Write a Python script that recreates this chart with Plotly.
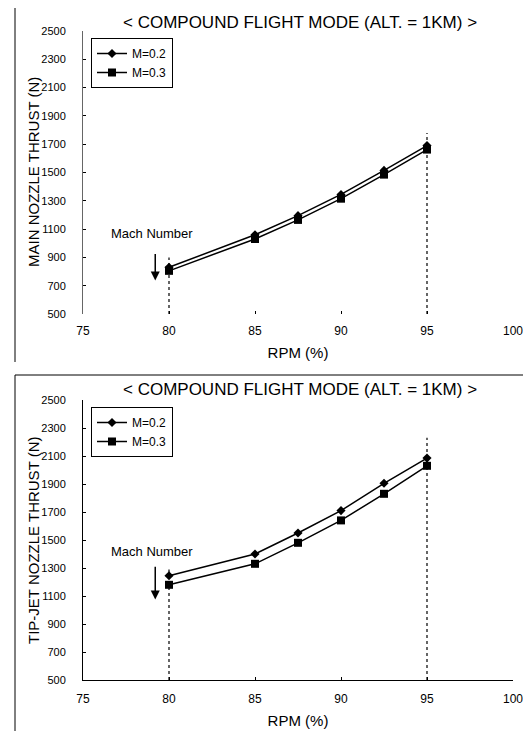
import plotly.graph_objects as go

rpm = [80, 85, 87.5, 90, 92.5, 95]
main_m02 = [830, 1060, 1195, 1345, 1515, 1690]
main_m03 = [805, 1030, 1165, 1315, 1485, 1662]
tip_m02 = [1245, 1400, 1550, 1710, 1905, 2085]
tip_m03 = [1180, 1330, 1480, 1640, 1830, 2030]
series_names = ["M=0.2", "M=0.3"]
title_text = "< COMPOUND FLIGHT MODE (ALT. = 1KM) >"
y_titles = ["MAIN NOZZLE THRUST (N)", "TIP-JET NOZZLE THRUST (N)"]
x_ticks = [75, 80, 85, 90, 95, 100]
y_ticks = [500, 700, 900, 1100, 1300, 1500, 1700, 1900, 2100, 2300, 2500]
ref_x = [80, 95]
main_ref_top = [900, 1780]
tip_ref_top = [1290, 2230]
arrow_x = 79.2
main_arrow = [935, 737, 1070]   # tail, head, label
tip_arrow = [1320, 1075, 1420]

W, H = 523, 731
FONT = "Liberation Sans, Arial, sans-serif"

def px(x):
    return x / W

def py(y):
    return 1 - y / H

fig = go.Figure()

panels = [
    ("x", "y", main_m02, main_m03, "legend"),
    ("x2", "y2", tip_m02, tip_m03, "legend2"),
]
for xa, ya, s2, s3, lg in panels:
    fig.add_trace(go.Scatter(x=rpm, y=s2, name=series_names[0], xaxis=xa, yaxis=ya,
                             mode="lines+markers", legend=lg,
                             line=dict(color="black", width=1.5),
                             marker=dict(symbol="diamond", size=7, color="black")))
    fig.add_trace(go.Scatter(x=rpm, y=s3, name=series_names[1], xaxis=xa, yaxis=ya,
                             mode="lines+markers", legend=lg,
                             line=dict(color="black", width=1.5),
                             marker=dict(symbol="square", size=8, color="black")))

xd = [px(83), px(513)]
top_yd = [py(314), py(31)]
bot_yd = [py(680), py(400)]

common_x = dict(range=[75, 100], tickvals=x_ticks, ticks="inside", ticklen=3,
                tickcolor="black", showgrid=False, zeroline=False, automargin=False,
                ticklabeloverflow="allow", ticklabelstandoff=8,
                tickfont=dict(family=FONT, size=12, color="black"),
                title=dict(text="RPM (%)", font=dict(family=FONT, size=15, color="black"), standoff=10))
common_y = dict(range=[500, 2500], tickvals=y_ticks, ticks="inside", ticklen=3,
                tickcolor="black", showgrid=False, zeroline=False, automargin=False,
                ticklabelstandoff=14,
                tickfont=dict(family=FONT, size=11, color="black"))

fig.update_layout(
    width=W, height=H, margin=dict(l=0, r=0, t=0, b=0, autoexpand=False),
    paper_bgcolor="white", plot_bgcolor="white",
    xaxis=dict(domain=xd, anchor="y", showline=False, **common_x),
    yaxis=dict(domain=top_yd, anchor="x", showline=True, linecolor="#666", linewidth=1, **common_y),
    xaxis2=dict(domain=xd, anchor="y2", showline=True, linecolor="black", linewidth=1, **common_x),
    yaxis2=dict(domain=bot_yd, anchor="x2", showline=True, linecolor="black", linewidth=1, **common_y),
    legend=dict(x=px(91), y=py(38), xanchor="left", yanchor="top", bordercolor="black",
                borderwidth=1, bgcolor="white", font=dict(family=FONT, size=12, color="black"),
                itemwidth=30, tracegroupgap=0),
    legend2=dict(x=px(91), y=py(407), xanchor="left", yanchor="top", bordercolor="black",
                 borderwidth=1, bgcolor="white", font=dict(family=FONT, size=12, color="black"),
                 itemwidth=30, tracegroupgap=0),
    showlegend=True,
)

# dotted reference lines
for xr, yr, tops in [("x", "y", main_ref_top), ("x2", "y2", tip_ref_top)]:
    for xv, top in zip(ref_x, tops):
        fig.add_shape(type="line", xref=xr, yref=yr, x0=xv, x1=xv, y0=500, y1=top,
                      line=dict(color="black", width=1.2, dash="dot"))

# titles, y titles, arrows
for xr, yr, ytitle, yt_text, yt_center, arr in [
        ("x", "y", 22, y_titles[0], 172, main_arrow),
        ("x2", "y2", 389, y_titles[1], 540, tip_arrow)]:
    fig.add_annotation(text=title_text, xref="paper", yref="paper", x=px(300), y=py(ytitle),
                       xanchor="center", yanchor="middle",
                       showarrow=False, font=dict(family=FONT, size=17, color="black"))
    fig.add_annotation(text=yt_text, xref="paper", yref="paper", x=px(33), y=py(yt_center),
                       xanchor="center", yanchor="middle", textangle=-90,
                       showarrow=False, font=dict(family=FONT, size=15, color="black"))
    fig.add_annotation(text="Mach Number", xref=xr, yref=yr, x=arrow_x - 0.2, y=arr[2],
                       showarrow=False, font=dict(family=FONT, size=13, color="black"))
    fig.add_annotation(text="", xref=xr, yref=yr, axref=xr, ayref=yr,
                       x=arrow_x, y=arr[1], ax=arrow_x, ay=arr[0],
                       showarrow=True, arrowhead=2, arrowsize=1.2, arrowwidth=1.5, arrowcolor="black")

# frame lines of the scanned page
frame = [
    (15, 8, 15, 362),
    (15, 375, 523, 375),
    (15, 375, 15, 731),
]
for x0, y0, x1, y1 in frame:
    fig.add_shape(type="line", xref="paper", yref="paper", x0=px(x0), y0=py(y0), x1=px(x1), y1=py(y1),
                  line=dict(color="black", width=1))

fig.write_html("out.html")
